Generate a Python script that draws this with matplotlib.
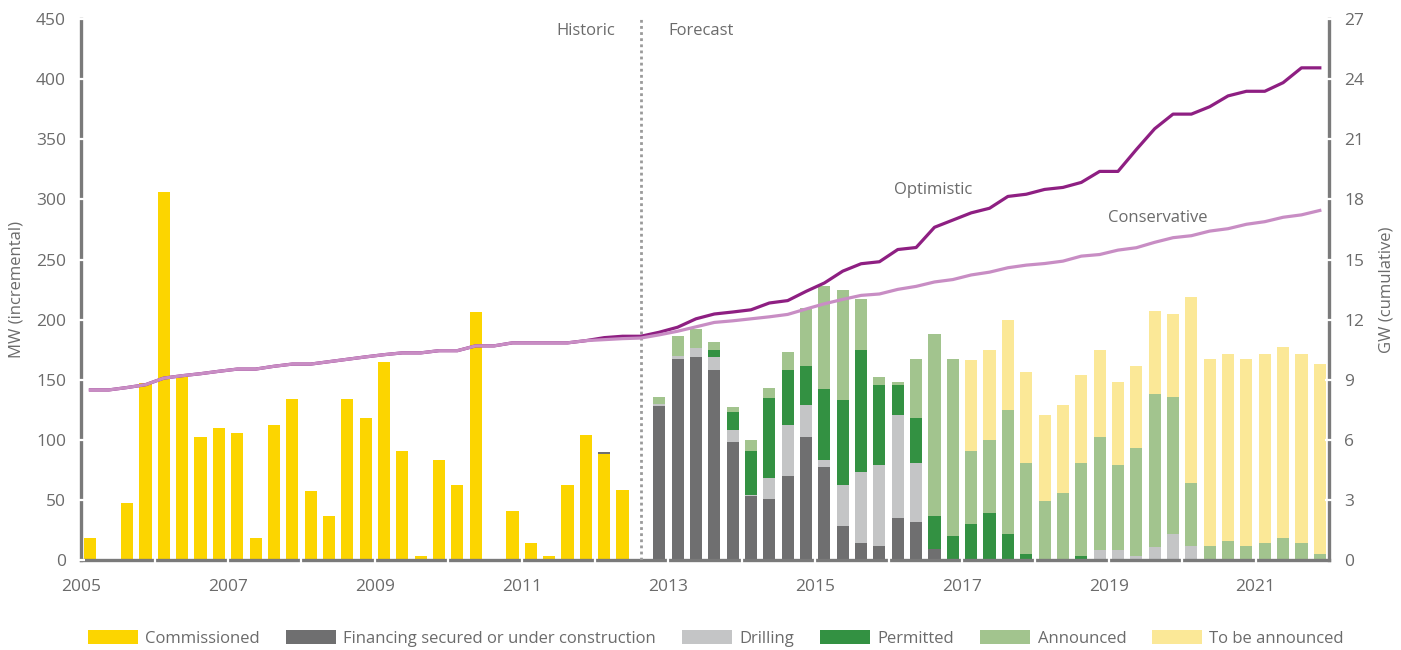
import matplotlib.pyplot as plt
import numpy as np

plt.rcParams['font.family'] = ['Open Sans', 'DejaVu Sans']

# Quarterly capacity additions (MW), 2005 Q1 .. 2021 Q4 (68 quarters)
commissioned = [18, 0, 47, 147, 306, 153, 102, 110, 106, 18,
                112, 134, 57, 37, 134, 118, 165, 91, 3, 83,
                62, 206, 0, 41, 14, 3, 62, 104, 88, 58] + [0] * 38

financing = [0] * 28 + [2, 0, 0] + [128, 167, 169, 158, 98, 53, 51, 70, 102, 77,
                                    28, 14, 12, 35, 32, 9] + [0] * 21

drilling = [0] * 31 + [2, 3, 7, 11, 10, 1, 17, 42, 27, 6,
                       34, 59, 67, 86, 49, 0, 0, 0, 0, 0,
                       0, 0, 0, 0, 8, 8, 3, 11, 22, 12,
                       0, 0, 0, 0, 0, 0, 0]

permitted = [0] * 31 + [0, 0, 0, 6, 15, 37, 67, 46, 32, 59,
                        71, 102, 67, 25, 37, 28, 20, 30, 39, 22,
                        5, 0, 0, 3, 0, 0, 0, 0, 0, 0,
                        0, 0, 0, 0, 0, 0, 0]

announced = [0] * 31 + [6, 16, 16, 6, 4, 9, 8, 15, 49, 86,
                        92, 42, 6, 2, 49, 151, 147, 61, 61, 103,
                        76, 49, 56, 78, 94, 71, 90, 127, 114, 52,
                        12, 16, 12, 14, 18, 14, 5]

to_be_announced = [0] * 48 + [75, 75, 75, 75, 72, 73, 73, 73, 69, 68,
                              69, 69, 155, 155, 155, 155, 157, 159, 157, 158]

# Cumulative capacity (GW)
conservative = [8.49, 8.49, 8.61, 8.75, 9.08, 9.20, 9.30, 9.42, 9.53, 9.53,
                9.67, 9.78, 9.78, 9.90, 10.02, 10.14, 10.25, 10.34, 10.34, 10.45,
                10.45, 10.69, 10.69, 10.84, 10.84, 10.84, 10.84, 10.95, 11.00, 11.05,
                11.08, 11.24, 11.42, 11.64, 11.86, 11.94, 12.04, 12.14, 12.26, 12.53,
                12.79, 13.01, 13.21, 13.28, 13.51, 13.66, 13.88, 14.00, 14.23, 14.37,
                14.59, 14.72, 14.80, 14.92, 15.17, 15.25, 15.47, 15.59, 15.86, 16.09,
                16.19, 16.42, 16.54, 16.76, 16.89, 17.11, 17.23, 17.45]

optimistic = conservative[:28] + [11.10, 11.17, 11.17, 11.37, 11.62, 12.04, 12.28, 12.38,
                                  12.49, 12.83, 12.95, 13.41, 13.83, 14.42, 14.79, 14.89,
                                  15.50, 15.60, 16.61, 16.97, 17.33, 17.56, 18.15, 18.26,
                                  18.50, 18.60, 18.85, 19.40, 19.40, 20.49, 21.53, 22.26,
                                  22.26, 22.63, 23.17, 23.40, 23.40, 23.83, 24.57, 24.57]

series = [
    ("Commissioned", commissioned, '#FCD500'),
    ("Financing secured or under construction", financing, '#6F6F70'),
    ("Drilling", drilling, '#C4C5C6'),
    ("Permitted", permitted, '#339142'),
    ("Announced", announced, '#A2C48E'),
    ("To be announced", to_be_announced, '#FBE897'),
]

split_quarter = 30  # empty slot between historic and forecast

axis_color = '#7a7a7a'
text_color = '#6b6b6b'

n = len(commissioned)
x = 2005 + (np.arange(n) + 0.5) / 4

fig = plt.figure(figsize=(14.01, 6.5), dpi=100)
ax = fig.add_axes([0.058, 0.1385, 0.8906, 0.832])

bottom = np.zeros(n)
for name, vals, col in series:
    vals = np.array(vals, dtype=float)
    ax.bar(x, vals, width=0.165, bottom=bottom, color=col, label=name, zorder=2)
    bottom += vals

ax.set_xlim(2005, 2022)
ax.set_ylim(0, 450)
ax.set_yticks(np.arange(0, 451, 50))
years = np.arange(2005, 2023)
ax.set_xticks(years)
ax.set_xticklabels([str(y) if y % 2 == 1 else '' for y in years])

ax.axvline(x[split_quarter], color='#9a9a9a', linestyle=(0, (1, 1.2)), linewidth=2, zorder=4)
ax.text(2012.27, 440, "Historic", ha='right', va='center', fontsize=12, color=text_color)
ax.text(2013.0, 440, "Forecast", ha='left', va='center', fontsize=12, color=text_color)

for side in ['top', 'right']:
    ax.spines[side].set_visible(False)
for side in ['left', 'bottom']:
    ax.spines[side].set_color(axis_color)
    ax.spines[side].set_linewidth(2.4)

# white ticks cut small gaps into the axis lines
ax.tick_params(axis='both', colors='white', labelcolor=text_color, labelsize=12.5,
               direction='inout', length=6, width=1.6)
ax.tick_params(axis='y', pad=8)
ax.tick_params(axis='x', pad=11)
ax.xaxis.set_zorder(3)
ax.yaxis.set_zorder(3)
ax.yaxis.get_major_ticks()[0].tick1line.set_visible(False)
ax.xaxis.get_major_ticks()[0].tick1line.set_visible(False)
ax.xaxis.get_major_ticks()[-1].tick1line.set_visible(False)
ax.set_ylabel("MW (incremental)", fontsize=12, color=text_color, labelpad=8)

ax2 = ax.twinx()
ax2.set_ylim(0, 27)
ax2.set_yticks(np.arange(0, 28, 3))
ax2.plot(x, optimistic, color='#8E1F82', linewidth=2.3, zorder=3)
ax2.plot(x, conservative, color='#C88DC4', linewidth=2.3, zorder=4)
ax2.text(2016.6, 18.45, "Optimistic", ha='center', va='center', fontsize=12, color=text_color)
ax2.text(2019.67, 17.05, "Conservative", ha='center', va='center', fontsize=12, color=text_color)

for side in ['top', 'left', 'bottom']:
    ax2.spines[side].set_visible(False)
ax2.spines['right'].set_color(axis_color)
ax2.spines['right'].set_linewidth(2.4)
ax2.tick_params(axis='y', colors='white', labelcolor=text_color, labelsize=12.5,
                direction='inout', length=6, width=1.6, pad=8)
ax2.yaxis.set_zorder(3)
ax2.yaxis.get_major_ticks()[0].tick2line.set_visible(False)
ax2.set_ylabel("GW (cumulative)", fontsize=12, color=text_color, labelpad=10)

handles, labels = ax.get_legend_handles_labels()
leg = fig.legend(handles, labels, loc='lower center', bbox_to_anchor=(0.511, -0.018),
                 ncol=6, frameon=False, fontsize=12, handlelength=3.0, handleheight=0.85,
                 handletextpad=0.45, columnspacing=1.55)
for t in leg.get_texts():
    t.set_color(text_color)

fig.savefig('out.png', dpi=100)
